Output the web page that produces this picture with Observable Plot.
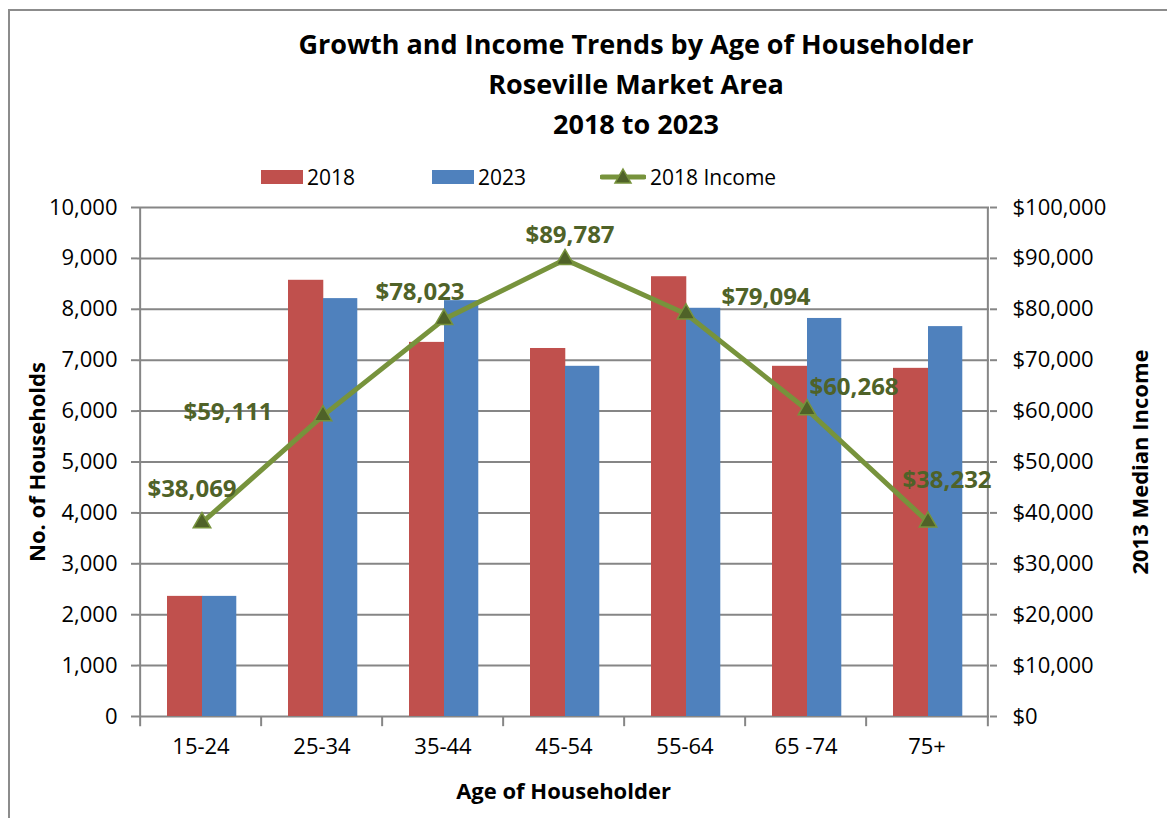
<!DOCTYPE html>
<html><head><meta charset="utf-8">
<script src="https://cdn.jsdelivr.net/npm/d3@7"></script>
<script src="https://cdn.jsdelivr.net/npm/@observablehq/plot@0.6"></script>
<style>
body{margin:0;background:#fff;font-family:"Open Sans",sans-serif;}
#wrap{position:relative;width:1167px;height:818px;overflow:hidden;background:#fff;}
#border{position:absolute;left:8px;top:9px;width:1400px;height:1000px;border-left:2px solid #8c8c8c;border-top:2px solid #8c8c8c;}
#title{position:absolute;left:136px;width:1000px;top:24px;text-align:center;font-weight:700;font-size:27px;line-height:40px;color:#000;}
.leg{position:absolute;top:163px;height:28px;display:flex;align-items:center;font-size:21px;color:#000;}
.sw{display:inline-block;width:42px;height:14px;margin-right:4px;}
#chart{position:absolute;left:0;top:195px;}
</style></head>
<body><div id="wrap">
<div id="border"></div>
<div id="title">Growth and Income Trends by Age of Householder<br>Roseville Market Area<br>2018 to 2023</div>
<div class="leg" style="left:261px"><span class="sw" style="background:#c0504d"></span>2018</div>
<div class="leg" style="left:432px"><span class="sw" style="background:#4f81bd"></span>2023</div>
<div class="leg" style="left:600px"><svg width="46" height="20" style="margin-right:4px"><line x1="2" y1="10" x2="44" y2="10" stroke="#77933c" stroke-width="5" stroke-linecap="round"/><path d="M23,2 L31,16 L15,16 Z" fill="#4f6228" stroke="#77933c" stroke-width="1.5"/></svg>2018 Income</div>
<div id="chart"></div>
</div>
<script>
const ageGroups = ["15-24","25-34","35-44","45-54","55-64","65 -74","75+"];
const households2018 = [2360, 8570, 7350, 7230, 8640, 6880, 6840];
const households2023 = [2360, 8210, 8170, 6880, 8020, 7820, 7660];
const income2018 = [38069, 59111, 78023, 89787, 79094, 60268, 38232];
const householdTicks = [0,1000,2000,3000,4000,5000,6000,7000,8000,9000,10000];
// label placement nudges (pixels) for income labels
const labelNudges = [[-12,-33],[-97,-3],[-26,-27],[3,-24],[78,-17],[45,-22],[17,-42]];

const W = 1167, H = 623, mL = 137, mR = 178, mT = 12, mB = 102;
const bw = (W - mL - mR) / ageGroups.length;
const barW = 35, gap0 = 27;
const rows = ageGroups.map((a, i) => ({age: a, h2018: households2018[i], h2023: households2023[i], inc: income2018[i]}));
const gray = "#868686";
const fmt = d3.format(",");

const marks = [
  Plot.gridY(householdTicks, {stroke: gray, strokeOpacity: 1, strokeWidth: 2}),
  Plot.axisY(householdTicks, {anchor: "left", tickSize: 6, tickPadding: 14, tickFormat: fmt, stroke: gray, strokeWidth: 2, fill: "#000", fontSize: 22, label: null}),
  Plot.axisY(householdTicks, {anchor: "right", tickSize: 7, tickPadding: 16, tickFormat: d => "$" + fmt(d * 10), stroke: gray, strokeWidth: 2, fill: "#000", fontSize: 22, label: null}),
  Plot.ruleX(ageGroups, {x: d => d, dx: -bw / 2, y1: (d, i) => i === 0 ? 10000 : 0, y2: -200, stroke: gray, strokeWidth: 2}),
  Plot.ruleX([ageGroups[ageGroups.length - 1]], {x: d => d, dx: bw / 2, y1: 10000, y2: -200, stroke: gray, strokeWidth: 2}),
  Plot.barY(rows, {x: "age", y: "h2018", fill: "#c0504d", insetLeft: gap0, insetRight: bw - gap0 - barW - 1}),
  Plot.barY(rows, {x: "age", y: "h2023", fill: "#4f81bd", insetLeft: gap0 + barW, insetRight: bw - gap0 - 2 * barW}),
  Plot.line(rows, {x: "age", y: d => d.inc / 10, stroke: "#77933c", strokeWidth: 5, dx: 1}),
  Plot.dot(rows, {x: "age", y: d => d.inc / 10, symbol: "triangle", r: 6.5, fill: "#4f6228", stroke: "#77933c", strokeWidth: 1.5, dx: 1}),
  ...rows.map((r, i) => Plot.text([r], {x: "age", y: d => d.inc / 10, text: d => "$" + fmt(d.inc), dx: 3 + labelNudges[i][0], dy: labelNudges[i][1], fill: "#4f6228", fontWeight: "bold", fontSize: 24})),
  Plot.axisX(ageGroups, {anchor: "bottom", tickSize: 0, tickPadding: 22, fill: "#000", fontSize: 22, label: null}),
  Plot.text(["No. of Households"], {frameAnchor: "left", textAnchor: "middle", rotate: -90, dx: -100, fontWeight: "bold", fontSize: 22, fill: "#000"}),
  Plot.text(["2013 Median Income"], {frameAnchor: "right", textAnchor: "middle", rotate: -90, dx: 151, fontWeight: "bold", fontSize: 22, fill: "#000"}),
  Plot.text(["Age of Householder"], {frameAnchor: "bottom", dy: 82, fontWeight: "bold", fontSize: 22, fill: "#000"})
];

const chart = Plot.plot({
  width: W, height: H, marginLeft: mL, marginRight: mR, marginTop: mT, marginBottom: mB,
  style: {fontFamily: "'Open Sans', sans-serif", fontSize: "20px", color: "#000", background: "transparent", overflow: "visible"},
  x: {type: "band", domain: ageGroups, padding: 0, axis: null},
  y: {domain: [0, 10000], axis: null},
  marks
});
document.getElementById("chart").appendChild(chart);
</script>
</body></html>
